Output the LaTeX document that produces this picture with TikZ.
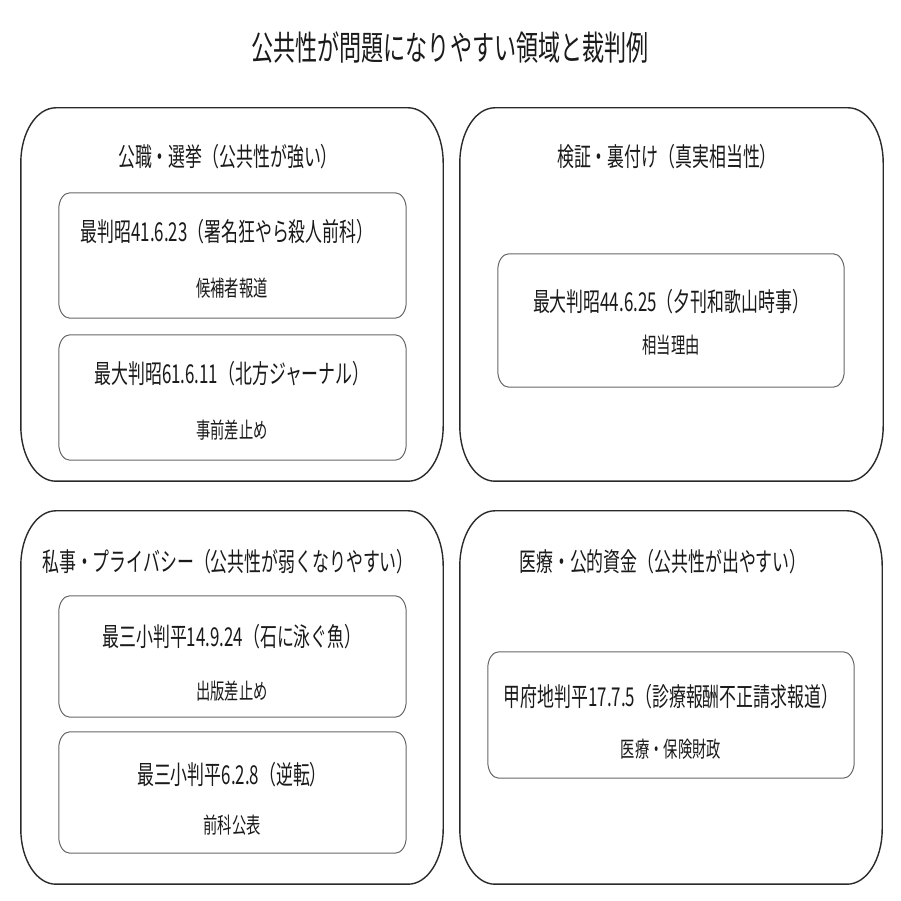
\documentclass[tikz,border=0pt]{standalone}
\usepackage{fontspec}
\setmainfont[FakeStretch=0.65]{Noto Sans CJK JP}
\definecolor{ink}{HTML}{1A1A1A}
\definecolor{outerline}{HTML}{2A2A2A}
\definecolor{innerline}{HTML}{666666}
\newcommand\ovalbox[4]{% style, node name, rx, ry
 \draw[#1] ([xshift=#3]#2.north west) -- ([xshift=-#3]#2.north east)
   arc[start angle=90,end angle=0,x radius=#3,y radius=#4]
   -- ([yshift=#4]#2.south east)
   arc[start angle=0,end angle=-90,x radius=#3,y radius=#4]
   -- ([xshift=#3]#2.south west)
   arc[start angle=270,end angle=180,x radius=#3,y radius=#4]
   -- ([yshift=-#4]#2.north west)
   arc[start angle=180,end angle=90,x radius=#3,y radius=#4] -- cycle;}
\begin{document}
\begin{tikzpicture}[x=1pt,y=1pt,
  frame/.style={draw=none,inner sep=0pt,minimum width=422pt,minimum height=373pt},
  card/.style={draw=none,inner sep=0pt,minimum width=347pt},
  oline/.style={draw=outerline,line width=1.4pt},
  iline/.style={draw=innerline,line width=1pt},
  ttl/.style={font=\fontsize{34}{37}\selectfont,text=ink,inner sep=0pt},
  hdr/.style={font=\fontsize{26}{29}\selectfont,text=ink,inner sep=0pt},
  case/.style={font=\fontsize{26}{29}\selectfont,text=ink,inner sep=0pt},
  sub/.style={font=\fontsize{22}{25}\selectfont,text=ink,inner sep=0pt}]
\useasboundingbox[fill=white] (0,0) rectangle (901,901);

\node[ttl] (title) at (450,853) {公共性が問題になりやすい領域と裁判例};

% outer frames
\node[frame] (tl) at (232,606.5) {};
\node[frame,minimum width=423pt] (tr) at (671.5,606.5) {};
\node[frame] (bl) at (232,203.5) {};
\node[frame] (br) at (671,203.5) {};
\ovalbox{oline}{tl}{35pt}{55pt}
\ovalbox{oline}{tr}{35pt}{55pt}
\ovalbox{oline}{bl}{35pt}{55pt}
\ovalbox{oline}{br}{35pt}{55pt}

\node[hdr] (tlh) at (228,744) {公職・選挙（公共性が強い）};
\node[hdr] (trh) at (667,744) {検証・裏付け（真実相当性）};
\node[hdr] (blh) at (228,339) {私事・プライバシー（公共性が弱くなりやすい）};
\node[hdr] (brh) at (663,339) {医療・公的資金（公共性が出やすい）};

% inner cards
\node[card,minimum height=125pt] (c1) at (232.5,645.5) {};
\node[card,minimum height=125pt] (c2) at (232.5,503.5) {};
\node[card,minimum width=346pt,minimum height=133pt] (c3) at (671,580.5) {};
\node[card,minimum height=121pt] (c4) at (232.5,244.5) {};
\node[card,minimum height=121pt] (c5) at (232.5,108.5) {};
\node[card,minimum width=366pt,minimum height=126pt] (c6) at (671,186) {};
\foreach \c in {c1,c2,c3,c4,c5,c6}{\ovalbox{iline}{\c}{11pt}{16pt}}

\node[case] (c1a) at (227,669) {最判昭41.6.23（署名狂やら殺人前科）};
\node[sub]  (c1b) at (232,613) {候補者報道};
\node[case] (c2a) at (232,527) {最大判昭61.6.11（北方ジャーナル）};
\node[sub]  (c2b) at (232,471) {事前差止め};
\node[case] (c3a) at (671,599) {最大判昭44.6.25（夕刊和歌山時事）};
\node[sub]  (c3b) at (671,556) {相当理由};
\node[case] (c4a) at (232,264) {最三小判平14.9.24（石に泳ぐ魚）};
\node[sub]  (c4b) at (232,210) {出版差止め};
\node[case] (c5a) at (232,126) {最三小判平6.2.8（逆転）};
\node[sub]  (c5b) at (232,76) {前科公表};
\node[case] (c6a) at (671,204) {甲府地判平17.7.5（診療報酬不正請求報道）};
\node[sub]  (c6b) at (671,152) {医療・保険財政};
\end{tikzpicture}
\end{document}
